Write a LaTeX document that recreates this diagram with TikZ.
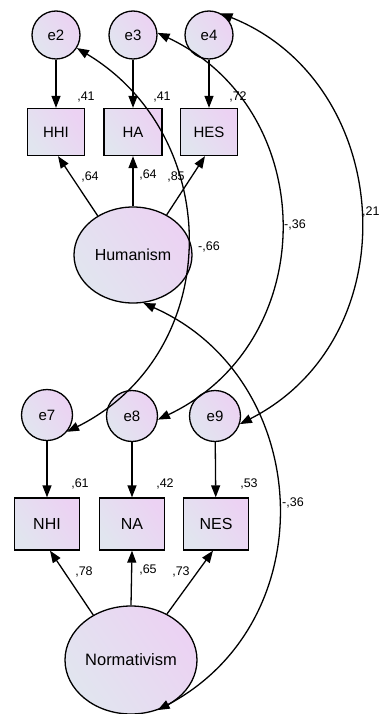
\documentclass[tikz,border=0pt]{standalone}
\usepackage{fontspec}
\setmainfont{Liberation Sans}
\usetikzlibrary{arrows.meta,shapes.geometric}
\definecolor{shadeA}{HTML}{E1E5EF}
\definecolor{shadeB}{HTML}{ECD2F3}
\tikzset{
  x=1pt, y=-1pt,
  filled/.style={draw=black, line width=1.3pt, left color=shadeA, right color=shadeB, shading angle=125},
  errvar/.style={filled, circle, inner sep=0pt, font=\fontsize{15}{15}\selectfont},
  obsvar/.style={filled, rectangle, inner sep=0pt, font=\fontsize{15}{15}\selectfont},
  latvar/.style={filled, ellipse, inner sep=0pt},
  coef/.style={font=\fontsize{12.5}{12.5}\selectfont, inner sep=0pt},
  path1/.style={line width=1.3pt, -{Triangle[length=12pt,width=9pt]}},
  path2/.style={line width=1.3pt, {Triangle[length=12pt,width=9pt]}-{Triangle[length=12pt,width=9pt]}},
}
\begin{document}
\begin{tikzpicture}
\useasboundingbox (0,0) rectangle (380,714);

% Humanism block
\node[errvar, minimum size=48pt] (e2) at (56,35) {e2};
\node[errvar, minimum size=48pt] (e3) at (133,35) {e3};
\node[errvar, minimum size=48pt] (e4) at (209,35) {e4};
\node[obsvar, minimum width=57pt, minimum height=47pt] (HHI) at (56,132) {HHI};
\node[obsvar, minimum width=58pt, minimum height=47pt] (HA) at (133,132) {HA};
\node[obsvar, minimum width=57pt, minimum height=47pt] (HES) at (209,132) {HES};
\node[latvar, minimum width=118pt, minimum height=96pt, font=\fontsize{16}{16}\selectfont] (Hum) at (133,255) {Humanism};

% Normativism block
\node[errvar, minimum size=51pt] (e7) at (47,415) {e7};
\node[errvar, minimum size=51pt] (e8) at (132,416) {e8};
\node[errvar, minimum size=51pt] (e9) at (215,416) {e9};
\node[obsvar, minimum width=65pt, minimum height=52pt, font=\fontsize{16}{16}\selectfont] (NHI) at (47,524) {NHI};
\node[obsvar, minimum width=65pt, minimum height=52pt, font=\fontsize{16}{16}\selectfont] (NA) at (132,524) {NA};
\node[obsvar, minimum width=65pt, minimum height=52pt, font=\fontsize{16}{16}\selectfont] (NES) at (216,524) {NES};
\node[latvar, minimum width=132pt, minimum height=108pt, font=\fontsize{16.5}{16.5}\selectfont] (Nor) at (131,660) {Normativism};

% error terms
\draw[path1] (e2) -- (HHI);
\draw[path1] (e3) -- (HA);
\draw[path1] (e4) -- (HES);
\draw[path1] (e7) -- (NHI);
\draw[path1] (e8) -- (NA);
\draw[path1] (e9) -- (NES);

% loadings
\draw[path1] (Hum.132) -- ([xshift=2pt]HHI.south);
\draw[path1] (Hum.north) -- (HA.south);
\draw[path1] (Hum.50) -- ([xshift=-4pt]HES.south);
\draw[path1] (Nor.130) -- ([xshift=3pt]NHI.south);
\draw[path1] (Nor.north) -- (NA.south);
\draw[path1] (Nor.52) -- ([xshift=-3pt]NES.south);

% covariances
\draw[path2] (e2.-32) .. controls (225,137) and (225,353) .. (e7.-40);
\draw[path2] (e3.5) .. controls (321,110) and (322,342) .. (e8.-8);
\draw[path2] (e4.62) .. controls (395,83) and (411,337) .. (e9.-18);
\draw[path2] (Hum.-78) .. controls (313,378) and (327,620) .. (Nor.-62);

% estimates
\node[coef] (r1) at (86,97) {,41};
\node[coef] (r2) at (162,97) {,41};
\node[coef] (r3) at (238,97) {,72};
\node[coef] (l1) at (90,177) {,64};
\node[coef] (l2) at (148,175) {,64};
\node[coef] (l3) at (176,177) {,85};
\node[coef] (c1) at (209,247) {-,66};
\node[coef] (c2) at (295,225) {-,36};
\node[coef, anchor=west] (c3) at (362,212) {,21};
\node[coef] (r4) at (80,484) {,61};
\node[coef] (r5) at (165,484) {,42};
\node[coef] (r6) at (249,484) {,53};
\node[coef] (l4) at (84,572) {,78};
\node[coef] (l5) at (148,570) {,65};
\node[coef] (l6) at (181,572) {,73};
\node[coef] (c4) at (293,503) {-,36};
\end{tikzpicture}
\end{document}
